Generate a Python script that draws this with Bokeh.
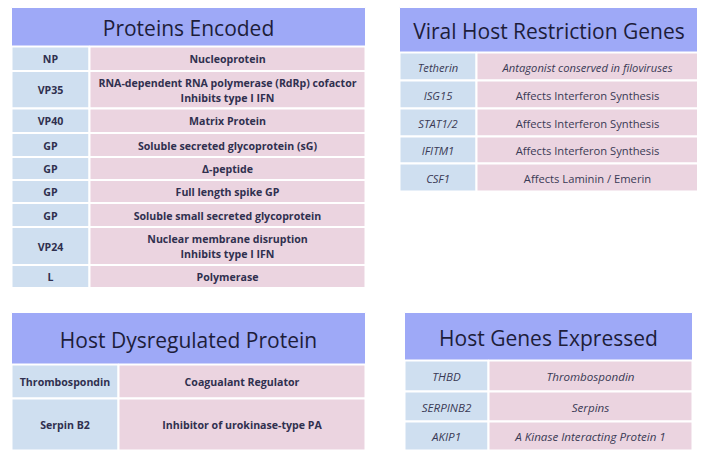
from bokeh.plotting import figure
from bokeh.models import Range1d, ColumnDataSource
from bokeh.core.properties import value
from bokeh.embed import file_html
from bokeh.resources import INLINE

# ---------------- data ----------------
t1_title = "Proteins Encoded"
t1_left = ["NP", "VP35", "VP40", "GP", "GP", "GP", "GP", "VP24", "L"]
t1_right = ["Nucleoprotein",
            "RNA-dependent RNA polymerase (RdRp) cofactor\nInhibits type I IFN",
            "Matrix Protein",
            "Soluble secreted glycoprotein (sG)",
            "\u0394-peptide",
            "Full length spike GP",
            "Soluble small secreted glycoprotein",
            "Nuclear membrane disruption\nInhibits type I IFN",
            "Polymerase"]

t2_title = "Viral Host Restriction Genes"
t2_left = ["Tetherin", "ISG15", "STAT1/2", "IFITM1", "CSF1"]
t2_right = ["Antagonist conserved in filoviruses",
            "Affects Interferon Synthesis",
            "Affects Interferon Synthesis",
            "Affects Interferon Synthesis",
            "Affects Laminin / Emerin"]

t3_title = "Host Dysregulated Protein"
t3_left = ["Thrombospondin", "Serpin B2"]
t3_right = ["Coagualant Regulator", "Inhibitor of urokinase-type PA"]

t4_title = "Host Genes Expressed"
t4_left = ["THBD", "SERPINB2", "AKIP1"]
t4_right = ["Thrombospondin", "Serpins", "A Kinase Interacting Protein 1"]

# ---------------- layout / style ----------------
HEADER = "#9ea9f7"
LEFTC = "#cfdff0"
RIGHTC = "#ebd4e0"
TITLEC = "#1d1d3a"
FONT = value("Open Sans")

W, H = 697, 452
p = figure(width=W, height=H, output_backend="svg", toolbar_location=None,
           x_range=Range1d(0, W), y_range=Range1d(H, 0),
           min_border=0, outline_line_color=None)
p.axis.visible = False
p.grid.visible = False
p.background_fill_color = "white"
p.border_fill_color = "white"


def draw_table(x0, x1, xs, y0, hh, rows, title, left, right,
               left_style, right_style, body_color,
               title_size="21px", body_size="11px"):
    p.quad(left=[x0], right=[x1], top=[y0], bottom=[y0 + hh],
           fill_color=HEADER, line_color="white", line_width=1)
    p.text(x=[(x0 + x1) / 2], y=[y0 + hh / 2 + 1], text=[title],
           text_align="center", text_baseline="middle", text_font=FONT,
           text_font_size=title_size, text_color=TITLEC)
    tops, bots = [], []
    y = y0 + hh
    for h in rows:
        tops.append(y)
        bots.append(y + h)
        y += h
    n = len(rows)
    p.quad(left=[x0] * n, right=[xs] * n, top=tops, bottom=bots,
           fill_color=LEFTC, line_color="white", line_width=2)
    p.quad(left=[xs] * n, right=[x1] * n, top=tops, bottom=bots,
           fill_color=RIGHTC, line_color="white", line_width=2)
    mids = [(a + b) / 2 + 0.5 for a, b in zip(tops, bots)]
    for xc, txt, st in (((x0 + xs) / 2, left, left_style),
                        ((xs + x1) / 2, right, right_style)):
        src = ColumnDataSource(dict(x=[xc] * n, y=mids, t=txt, s=st))
        p.text(x="x", y="y", text="t", text_font_style="s", source=src,
               text_align="center", text_baseline="middle", text_font=FONT,
               text_font_size=body_size, text_color=body_color,
               text_line_height=1.05)


draw_table(11, 365, 89, 7, 39, [24.5, 37.5, 24.5, 24, 23, 23, 24, 38, 23],
           t1_title, t1_left, t1_right, ["bold"] * 9, ["bold"] * 9, "#30304f",
           body_size="10.6px")
draw_table(399, 698, 476, 7, 45, [28, 28, 28, 27, 28],
           t2_title, t2_left, t2_right, ["italic"] * 5,
           ["italic", "normal", "normal", "normal", "normal"], "#3a3a55",
           body_size="11.2px")
draw_table(11, 365, 118, 312, 52, [34, 52],
           t3_title, t3_left, t3_right, ["bold"] * 2, ["bold"] * 2, "#30304f",
           body_size="10.6px")
draw_table(404, 692, 488, 312, 48, [31, 30, 29],
           t4_title, t4_left, t4_right, ["italic"] * 3, ["italic"] * 3, "#3a3a55",
           body_size="11.6px")

open("out.html", "w").write(file_html(p, INLINE))
